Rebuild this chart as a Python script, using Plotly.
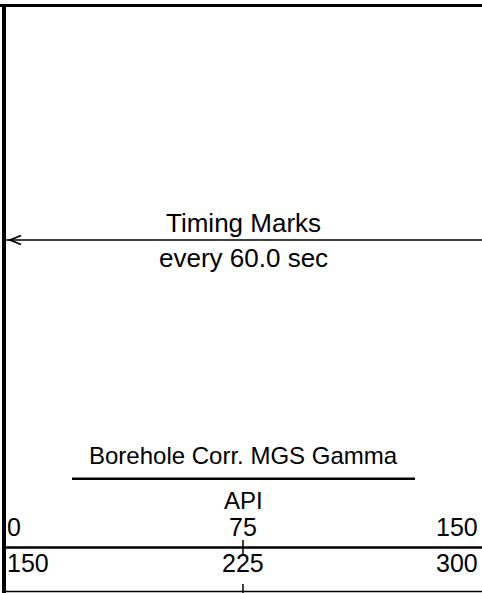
import plotly.graph_objects as go

# ---- data ----
track_title = "Borehole Corr. MGS Gamma"
track_unit = "API"
scale1 = [0, 75, 150]
scale2 = [150, 225, 300]
timing_title = "Timing Marks"
timing_interval = 60.0
timing_unit = "sec"

W, H = 482, 593
FONT = "Liberation Sans, Arial, sans-serif"
FS_TIMING = 26
FS_TITLE = 24
FS_NUM = 25

fig = go.Figure()
# invisible traces to establish the axes
fig.add_trace(go.Scatter(x=[scale1[0], scale1[-1]], y=[0, H], mode="markers",
                         marker=dict(opacity=0), hoverinfo="skip", showlegend=False,
                         xaxis="x", yaxis="y"))
fig.add_trace(go.Scatter(x=[scale2[0], scale2[-1]], y=[0, H], mode="markers",
                         marker=dict(opacity=0), hoverinfo="skip", showlegend=False,
                         xaxis="x2", yaxis="y"))

x0 = 4 / W
fig.update_layout(
    width=W, height=H,
    margin=dict(l=0, r=0, t=0, b=0),
    paper_bgcolor="white", plot_bgcolor="white",
    xaxis=dict(range=[scale1[0], scale1[-1]], domain=[x0, 1], visible=False, fixedrange=True),
    xaxis2=dict(range=[scale2[0], scale2[-1]], domain=[x0, 1], overlaying="x",
                visible=False, fixedrange=True),
    yaxis=dict(range=[H, 0], domain=[0, 1], visible=False, fixedrange=True),
    showlegend=False,
)

shapes = []
# frame: top thick line and left thick border
shapes.append(dict(type="line", xref="paper", yref="y", x0=0, x1=1, y0=5.5, y1=5.5,
                   line=dict(color="black", width=3)))
shapes.append(dict(type="line", xref="paper", yref="y", x0=x0, x1=x0, y0=4, y1=H,
                   line=dict(color="black", width=4)))
# timing arrow
shapes.append(dict(type="line", xref="x", yref="y", x0=scale1[0], x1=scale1[-1], y0=240, y1=240,
                   line=dict(color="black", width=1.5)))
shapes.append(dict(type="path", xref="paper", yref="y",
                   path=f"M {21/W} 235.5 L {10/W} 240 L {21/W} 244.5",
                   line=dict(color="black", width=1.8)))
# underline of track title
shapes.append(dict(type="line", xref="paper", yref="y", x0=72 / W, x1=415 / W, y0=478.7, y1=478.7,
                   line=dict(color="black", width=2.5)))
# separator line between scale rows, bottom line
shapes.append(dict(type="line", xref="x", yref="y", x0=scale1[0], x1=scale1[-1], y0=547.5, y1=547.5,
                   line=dict(color="black", width=2.5)))
shapes.append(dict(type="line", xref="x", yref="y", x0=scale1[0], x1=scale1[-1], y0=591.5, y1=591.5,
                   line=dict(color="black", width=1.5)))
# center ticks
shapes.append(dict(type="line", xref="x", yref="y", x0=scale1[1], x1=scale1[1], y0=540, y1=555,
                   line=dict(color="black", width=1.5)))
shapes.append(dict(type="line", xref="x2", yref="y", x0=scale2[1], x1=scale2[1], y0=584, y1=H,
                   line=dict(color="black", width=1.5)))
fig.update_layout(shapes=shapes)

ft = dict(family=FONT, size=FS_TIMING, color="black")
fh = dict(family=FONT, size=FS_TITLE, color="black")
fn = dict(family=FONT, size=FS_NUM, color="black")
ann = []
ann.append(dict(xref="x", yref="y", x=scale1[1], y=223, text=timing_title, showarrow=False,
                xanchor="center", yanchor="middle", font=ft))
ann.append(dict(xref="x", yref="y", x=scale1[1], y=257.5,
                text=f"every {timing_interval:.1f} {timing_unit}", showarrow=False,
                xanchor="center", yanchor="middle", font=ft))
ann.append(dict(xref="x", yref="y", x=scale1[1], y=455.5, text=track_title, showarrow=False,
                xanchor="center", yanchor="middle", font=fh))
ann.append(dict(xref="x", yref="y", x=scale1[1], y=500.5, text=track_unit, showarrow=False,
                xanchor="center", yanchor="middle", font=fh))
anchors = ["left", "center", "right"]
shifts = [1, 0, -2]
for v, a, s in zip(scale1, anchors, shifts):
    ann.append(dict(xref="x", yref="y", x=v, y=527, text=str(v), showarrow=False,
                    xanchor=a, yanchor="middle", xshift=s, font=fn))
for v, a, s in zip(scale2, anchors, shifts):
    ann.append(dict(xref="x2", yref="y", x=v, y=562.5, text=str(v), showarrow=False,
                    xanchor=a, yanchor="middle", xshift=s, font=fn))
fig.update_layout(annotations=ann)

fig.write_html(
    "out.html",
    config={"displayModeBar": False, "staticPlot": True},
    post_script="document.body.style.margin='0';document.body.style.padding='0';"
                "document.body.style.overflow='hidden';",
)
